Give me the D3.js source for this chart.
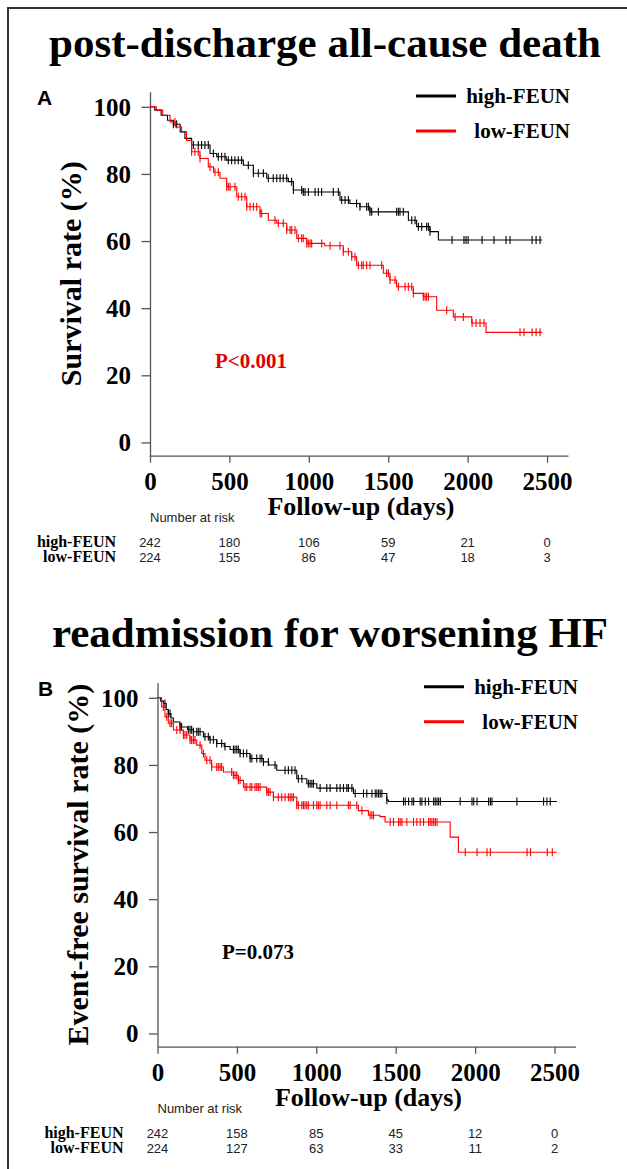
<!DOCTYPE html>
<html>
<head>
<meta charset="utf-8">
<script src="https://d3js.org/d3.v7.min.js"></script>
<style>
  body { margin: 0; background: #fff; }
  svg text { font-family: "Liberation Serif", "Times New Roman", serif; font-weight: bold; fill: #000; }
  svg text.sans { font-family: "Liberation Sans", Arial, sans-serif; font-weight: normal; fill: #222; }
  .axis path, .axis line { stroke: #555; stroke-width: 1.3; }
</style>
</head>
<body>
<svg id="fig" width="627" height="1169"></svg>
<script>
// ---------- data ----------
var groups = ["high-FEUN", "low-FEUN"];
var xTicks = [0, 500, 1000, 1500, 2000, 2500];
var yTicks = [0, 20, 40, 60, 80, 100];

// panel A: post-discharge all-cause death  [day, survival %]
var deathHighSteps = [[0,100],[30,99],[70,97.5],[110,96],[147,94.8],[190,92.5],[220,90.6],[262,88.6],
  [378,86.1],[420,85.1],[480,84.1],[588,82.6],[651,80.2],[735,78.7],[871,77.7],[903,75.2],[965,74.6],
  [1196,72.2],[1259,71.2],[1322,70.2],[1385,68.7],[1627,66.2],[1679,64.3],[1763,62.8],[1816,60.3]];
var deathHighCensor = [147,168,273,304,325,346,367,399,430,451,472,493,514,535,556,577,619,651,682,714,
  745,776,798,819,839,861,892,903,955,965,976,997,1039,1060,1081,1154,1186,1207,1228,1249,1301,1322,
  1364,1375,1385,1396,1438,1553,1564,1574,1595,1648,1669,1690,1711,1742,1753,1763,1902,1977,1990,
  2003,2091,2166,2242,2267,2406,2431,2456];
var deathLowSteps = [[0,100],[40,99],[80,97.5],[126,95.5],[160,94],[199,92.6],[230,90],[262,86.6],
  [315,84.6],[367,82.1],[400,80.5],[441,78.7],[483,76.2],[546,73.2],[609,70.2],[693,68.2],[745,66.2],
  [798,65.3],[861,63.3],[924,60.8],[987,59.3],[1100,58.6],[1217,56.8],[1270,55.3],[1301,52.8],
  [1469,50.4],[1511,48.4],[1553,46.4],[1658,44.4],[1721,43.4],[1805,39.4],[1910,37.4],[2026,35.6],
  [2116,32.8]];
var deathLowCensor = [157,262,283,304,315,378,409,430,483,493,504,535,556,577,598,609,630,651,672,693,
  703,787,808,839,861,882,892,913,934,955,965,987,997,1008,1018,1081,1134,1196,1217,1249,1270,1291,
  1312,1333,1343,1364,1385,1459,1490,1501,1511,1543,1564,1606,1627,1648,1658,1721,1732,1742,1753,
  1868,1921,1973,2028,2053,2078,2103,2330,2355,2406,2431,2456];
var deathEnd = 2469;
var deathRiskHigh = [242, 180, 106, 59, 21, 0];
var deathRiskLow = [224, 155, 86, 47, 18, 3];

// panel B: readmission for worsening HF  [day, event-free %]
var readmHighSteps = [[0,100],[20,99],[37,98.3],[55,96.5],[68,95.3],[85,94],[100,92.8],[142,91.3],
  [190,90.5],[226,89.9],[289,88.4],[330,87.5],[373,86.4],[420,85.5],[457,84.6],[520,83.4],[583,81.9],
  [667,80.9],[700,80],[751,78.4],[877,75.9],[940,74.4],[1003,73.1],[1234,71.5],[1444,69.5],[1454,69.1]];
var readmHighCensor = [47,68,79,142,152,194,205,215,226,247,257,268,299,320,331,352,373,404,425,478,
  488,499,509,520,541,562,583,594,625,646,657,667,698,740,803,824,846,866,887,909,950,961,972,982,
  1024,1066,1087,1129,1150,1171,1192,1202,1224,1245,1297,1318,1350,1371,1381,1392,1402,1413,1444,
  1549,1560,1581,1602,1613,1654,1665,1686,1707,1739,1749,1760,1770,1781,1906,1980,1991,2012,2085,
  2096,2106,2263,2431,2452,2473];
var readmLowSteps = [[0,100],[26,97.3],[47,94.3],[68,92.4],[100,90.4],[163,88.9],[205,87.4],[247,85.9],
  [279,83.4],[299,81.4],[341,79.4],[415,77.9],[478,76.9],[509,75.4],[541,73.4],[688,71.9],[730,70.4],
  [877,68],[1265,66.4],[1328,65],[1400,64.6],[1433,63],[1843,58.5],[1895,54]];
var readmLowCensor = [37,58,79,89,121,142,163,173,184,205,215,226,236,268,289,310,331,341,373,383,394,
  404,467,478,488,499,509,520,551,562,583,594,614,625,635,646,688,698,709,730,761,782,803,824,835,
  846,856,877,887,909,919,929,940,950,982,1003,1013,1024,1066,1087,1129,1202,1213,1255,1287,1339,
  1350,1360,1465,1486,1518,1528,1539,1570,1612,1633,1654,1675,1707,1717,1728,1739,1749,1760,1938,
  2012,2075,2096,2327,2349,2454,2486];
var readmEnd = 2515;
var readmRiskHigh = [242, 158, 85, 45, 12, 0];
var readmRiskLow = [224, 127, 63, 33, 11, 2];

var colors = ["#000000", "#ff0000"];

var svg = d3.select("#fig");

// frame (cropped figure: top and left edges only)
svg.append("line").attr("x1", 8).attr("x2", 627).attr("y1", 8).attr("y2", 8)
  .attr("stroke", "#333").attr("stroke-width", 2);
svg.append("line").attr("x1", 8).attr("x2", 8).attr("y1", 7).attr("y2", 1169)
  .attr("stroke", "#333").attr("stroke-width", 2);

function drawPanel(p) {
  var x = d3.scaleLinear().domain([0, 2632]).range([p.left, p.left + 418]);
  var y = d3.scaleLinear().domain([-3.95, 104.5]).range([p.bottom, p.bottom - 364]);
  var g = svg.append("g");

  g.append("text").attr("x", p.titleX).attr("y", p.titleY)
    .attr("text-anchor", "middle").style("font-size", "43px").text(p.title);

  g.append("text").attr("x", p.letterX).attr("y", p.bottom - 351)
    .style("font-family", "'Liberation Sans', Arial, sans-serif").style("font-weight", "bold")
    .style("font-size", "21px").text(p.letter);

  var xAxis = g.append("g").attr("class", "axis")
    .attr("transform", "translate(0," + p.bottom + ")")
    .call(d3.axisBottom(x).tickValues(xTicks).tickFormat(d3.format("d"))
      .tickSize(7).tickSizeOuter(0));
  xAxis.selectAll("text").attr("dy", null).attr("y", 34)
    .style("font-size", "25px").style("fill", "#000");

  var yAxis = g.append("g").attr("class", "axis")
    .attr("transform", "translate(" + p.left + ",0)")
    .call(d3.axisLeft(y).tickValues(yTicks).tickFormat(d3.format("d"))
      .tickSize(8.5).tickSizeOuter(0));
  yAxis.selectAll("text").attr("x", -19).attr("dy", "0.34em")
    .style("font-size", "25px").style("fill", "#000");

  g.append("text").attr("x", p.left + 211).attr("y", p.bottom + 59)
    .attr("text-anchor", "middle").style("font-size", "26px").text("Follow-up (days)");

  g.append("text")
    .attr("transform", "translate(" + p.yLabelX + "," + (p.bottom - 182) + ") rotate(-90)")
    .attr("text-anchor", "middle").style("font-size", "30px").text(p.yLabel);

  var line = d3.line().curve(d3.curveStepAfter)
    .x(function(d) { return x(d[0]); })
    .y(function(d) { return y(d[1]); });

  p.curves.forEach(function(c, i) {
    var pts = c.steps.concat([[p.end, c.steps[c.steps.length - 1][1]]]);
    g.append("path").attr("d", line(pts)).attr("fill", "none")
      .attr("stroke", colors[i]).attr("stroke-width", 1.1);
    var at = function(t) {
      var s = 100;
      c.steps.forEach(function(d) { if (d[0] <= t) s = d[1]; });
      return s;
    };
    g.selectAll(null).data(c.censor).enter().append("line")
      .attr("x1", function(t) { return x(t); })
      .attr("x2", function(t) { return x(t); })
      .attr("y1", function(t) { return y(at(t)) - 4; })
      .attr("y2", function(t) { return y(at(t)) + 4; })
      .attr("stroke", colors[i]).attr("stroke-width", 1.1);
  });

  // legend
  groups.forEach(function(name, i) {
    var ly = p.legendY + i * 35;
    g.append("line").attr("x1", p.legendX).attr("x2", p.legendX + 40)
      .attr("y1", ly).attr("y2", ly).attr("stroke", colors[i]).attr("stroke-width", 3);
    g.append("text").attr("x", p.legendX + 154).attr("y", ly + 7)
      .attr("text-anchor", "end").style("font-size", "21px").text(name);
  });

  g.append("text").attr("x", p.pX).attr("y", p.pY)
    .style("font-size", "21px").style("fill", p.pColor).text(p.pText);

  // number at risk
  g.append("text").attr("class", "sans").attr("x", p.left).attr("y", p.bottom + 66)
    .style("font-size", "13px").text("Number at risk");
  [p.riskHigh, p.riskLow].forEach(function(row, i) {
    var ry = p.bottom + 91 + i * 15.5;
    g.append("text").attr("x", p.left - 34).attr("y", ry)
      .attr("text-anchor", "end").style("font-size", "16px").text(groups[i]);
    g.selectAll(null).data(row).enter().append("text").attr("class", "sans")
      .attr("x", function(d, j) { return x(xTicks[j]); })
      .attr("y", ry).attr("text-anchor", "middle")
      .style("font-size", "13px").text(function(d) { return d; });
  });
}

drawPanel({
  title: "post-discharge all-cause death", titleX: 325, titleY: 57, letter: "A", letterX: 37,
  left: 150, bottom: 455.7, yLabel: "Survival rate (%)", yLabelX: 81,
  legendX: 416, legendY: 96, pText: "P<0.001", pColor: "#e00000", pX: 215, pY: 368,
  end: deathEnd, riskHigh: deathRiskHigh, riskLow: deathRiskLow,
  curves: [{steps: deathHighSteps, censor: deathHighCensor},
           {steps: deathLowSteps, censor: deathLowCensor}]
});

drawPanel({
  title: "readmission for worsening HF", titleX: 330, titleY: 647, letter: "B", letterX: 38,
  left: 157.5, bottom: 1046.7, yLabel: "Event-free survival rate (%)", yLabelX: 88,
  legendX: 424, legendY: 686.7, pText: "P=0.073", pColor: "#000", pX: 222, pY: 959,
  end: readmEnd, riskHigh: readmRiskHigh, riskLow: readmRiskLow,
  curves: [{steps: readmHighSteps, censor: readmHighCensor},
           {steps: readmLowSteps, censor: readmLowCensor}]
});
</script>
</body>
</html>
